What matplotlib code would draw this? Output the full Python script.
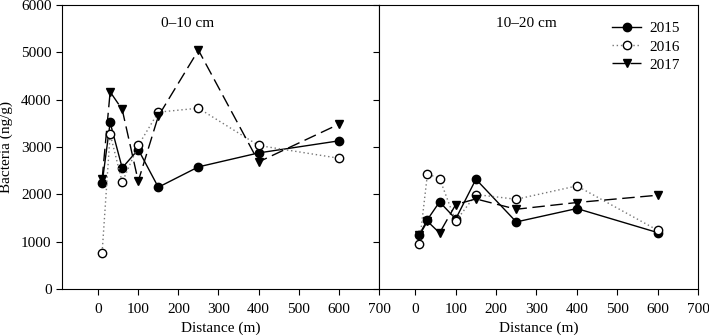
import matplotlib
matplotlib.use("Agg")
import matplotlib.pyplot as plt

plt.rcParams['font.family'] = ['Liberation Serif', 'DejaVu Serif']
plt.rcParams['mathtext.fontset'] = 'stix'

distance = [10, 30, 60, 100, 150, 250, 400, 600]

# 0-10 cm
top_2015 = [2235, 3518, 2558, 2947, 2150, 2580, 2875, 3130]
top_2016 = [770, 3277, 2256, 3032, 3736, 3820, 3032, 2763]
top_2017 = [2320, 4165, 3793, 2277, 3651, 5046, 2685, 3482]

# 10-20 cm
sub_2015 = [1150, 1467, 1840, 1480, 2319, 1417, 1700, 1192]
sub_2016 = [960, 2431, 2334, 1431, 1996, 1896, 2178, 1241]
sub_2017 = [1135, 1430, 1184, 1784, 1903, 1685, 1827, 1981]

years = ['2015', '2016', '2017']
panel_titles = ['0–10 cm', '10–20 cm']
xticks = [0, 100, 200, 300, 400, 500, 600, 700]
yticks = [0, 1000, 2000, 3000, 4000, 5000, 6000]

styles = [
    dict(color='black', linestyle='-', marker='o', markerfacecolor='black',
         markeredgecolor='black', linewidth=1.0),
    dict(color='#777777', linestyle=(0, (1, 2)), marker='o', markerfacecolor='white',
         markeredgecolor='black', linewidth=1.0),
    dict(color='black', linestyle=(0, (9, 4)), marker='v', markerfacecolor='black',
         markeredgecolor='black', linewidth=1.0),
]

fig = plt.figure(figsize=(7.09, 3.35), dpi=100)
ax1 = fig.add_axes([62/709, 1-289/335, 317/709, 284/335])
ax2 = fig.add_axes([379/709, 1-289/335, 319/709, 284/335])

for ax, data, title, tx in [(ax1, [top_2015, top_2016, top_2017], panel_titles[0], 222),
                            (ax2, [sub_2015, sub_2016, sub_2017], panel_titles[1], 276)]:
    for vals, st, yr in zip(data, styles, years):
        ax.plot(distance, vals, markersize=6, label=yr, **st)
    ax.set_xlim(-90, 700)
    ax.set_ylim(0, 6000)
    ax.set_xticks(xticks)
    ax.set_yticks(yticks)
    ax.tick_params(direction='out', length=4, width=0.8, labelsize=11)
    ax.tick_params(axis='x', pad=6)
    ax.set_xlabel('Distance (m)', fontsize=11, labelpad=4)
    ax.text(tx, 5600, title, fontsize=11, ha='center', va='center')
    for s in ax.spines.values():
        s.set_linewidth(0.8)

ax1.set_ylabel('Bacteria (ng/g)', fontsize=11, labelpad=6)
ax2.tick_params(axis='y', labelleft=False)

leg = ax2.legend(loc='upper right', frameon=False, fontsize=11, handlelength=1.9,
                 handletextpad=0.5, labelspacing=0.3, borderaxespad=0.5,
                 bbox_to_anchor=(0.985, 0.99))

fig.savefig('out.png', dpi=100)
